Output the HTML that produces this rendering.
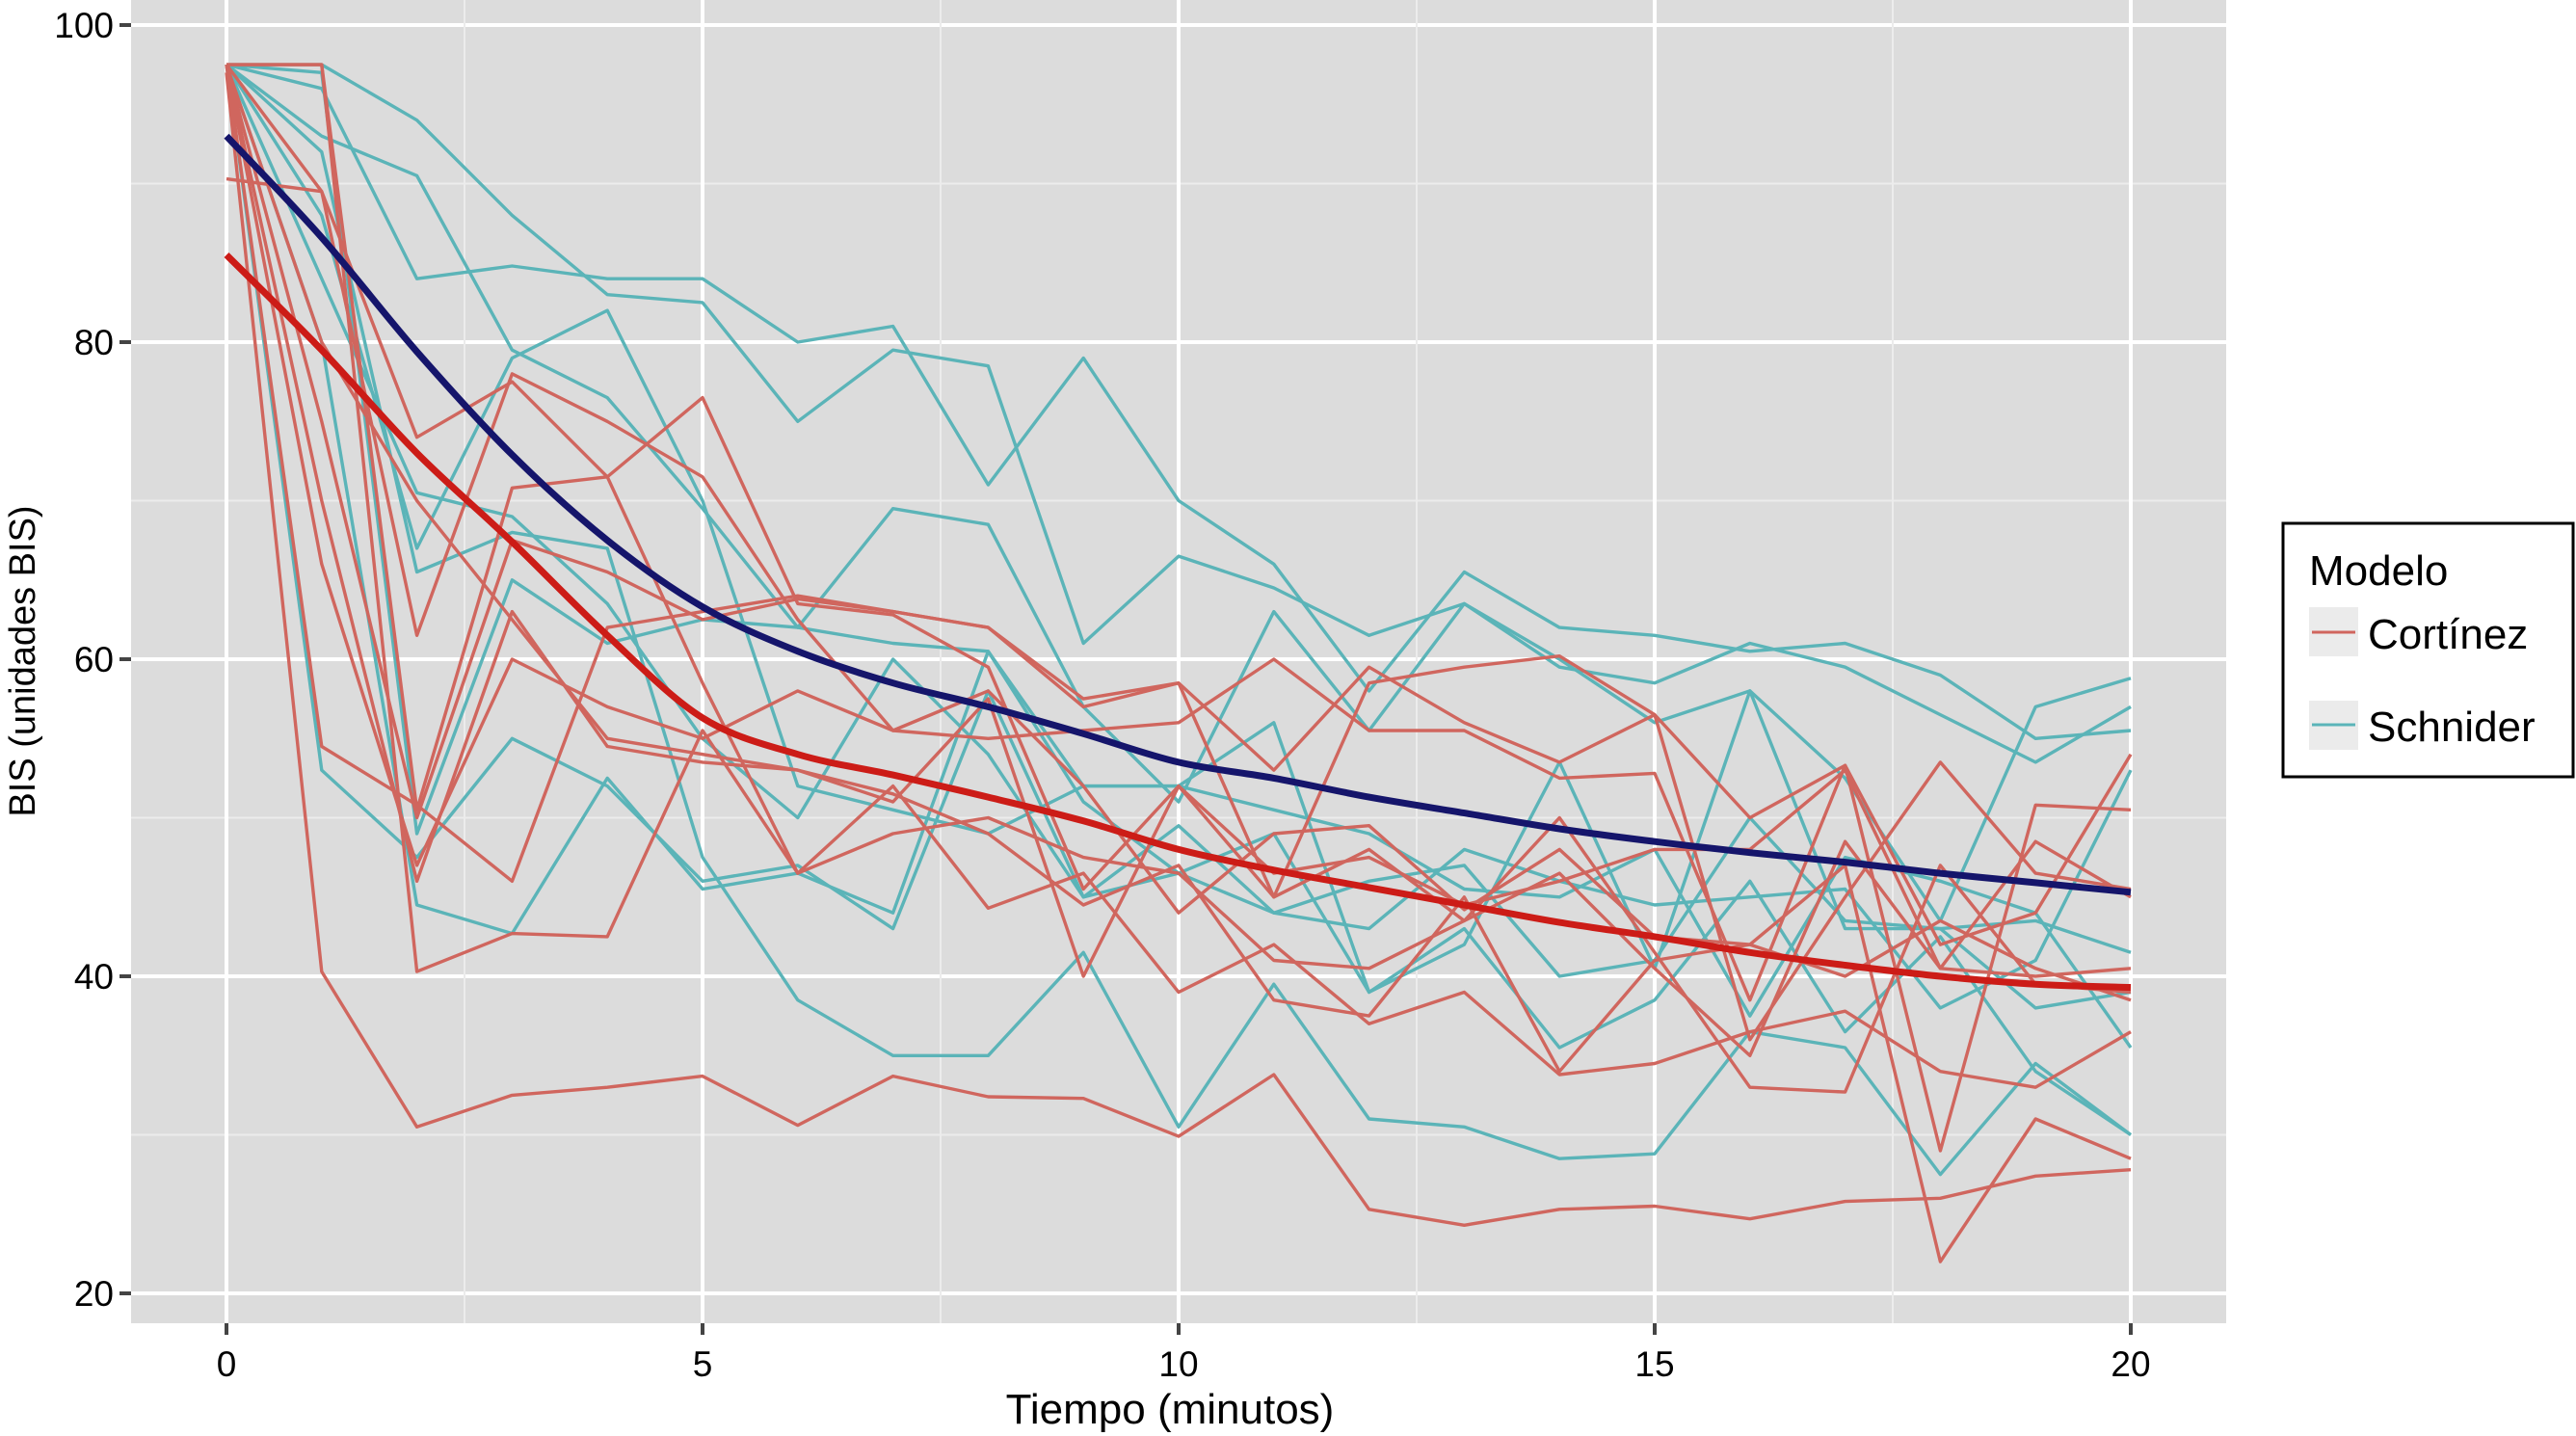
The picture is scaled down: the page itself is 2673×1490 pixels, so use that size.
<!DOCTYPE html>
<html><head><meta charset="utf-8"><style>
html,body{margin:0;padding:0;background:#fff}
svg{display:block;font-family:"Liberation Sans",sans-serif}
</style></head><body>
<svg id="chart" width="2673" height="1490" viewBox="0 0 2673 1490" xmlns="http://www.w3.org/2000/svg">
<rect x="136" y="0" width="2174" height="1373" fill="#dcdcdc"/>
<g id="grid"></g>
<g id="series"></g>
<g id="axes"></g>
<text x="1214" y="1477" font-size="44" text-anchor="middle">Tiempo (minutos)</text>
<text transform="translate(36,686) rotate(-90)" font-size="38" text-anchor="middle">BIS (unidades BIS)</text>
<g>
<rect x="2369" y="543" width="301" height="263" fill="#fff" stroke="#000" stroke-width="3"/>
<text x="2396" y="607" font-size="44">Modelo</text>
<g>
<rect x="2396" y="630" width="51" height="51" fill="#ebebeb"/>
<line x1="2399" y1="656" x2="2444" y2="656" stroke="#d0665e" stroke-width="3"/>
<text x="2457" y="673" font-size="44">Cortínez</text></g>
<g>
<rect x="2396" y="727" width="51" height="51" fill="#ebebeb"/>
<line x1="2399" y1="752" x2="2444" y2="752" stroke="#5bb4b8" stroke-width="3"/>
<text x="2457" y="769" font-size="44">Schnider</text></g>
</g>
</svg>
<script>
const xTicks=[0,5,10,15,20];
const yTicks=[20,40,60,80,100];
const times=[0,1,2,3,4,5,6,7,8,9,10,11,12,13,14,15,16,17,18,19,20];
const cortinezMean=[85.5,79.5,73,67.4,61.5,56.3,54,52.7,51.3,49.8,48,46.7,45.6,44.5,43.4,42.5,41.5,40.7,40,39.5,39.3];
const schniderMean=[93,86.6,79.4,72.9,67.5,63.3,60.5,58.5,57,55.3,53.5,52.5,51.3,50.3,49.3,48.5,47.8,47.2,46.5,45.9,45.3];
const cortinez1=[97,40.3,30.5,32.5,33,33.7,30.6,33.7,32.4,32.3,29.9,33.8,25.3,24.3,25.3,25.5,24.7,25.8,26,27.4,27.8];
const cortinez2=[97.5,97.5,40.3,42.7,42.5,55.5,46.5,52,44.3,46.5,39,42,37,39,33.8,34.5,36.5,37.8,34,33,36.5];
const cortinez3=[97.5,54.5,50.8,46,62,63,64,63,62,57.5,58.5,45,58.5,59.5,60.2,56.5,50,53.3,29,50.8,50.5];
const cortinez4=[97.5,89.5,61.5,78,75,71.5,62.5,55.5,55,55.5,56,60,55.5,55.5,52.5,52.8,38.5,53.3,42,44,54];
const cortinez5=[90.3,89.5,74,77.5,71.5,76.5,63.5,62.8,59.5,45.5,52,46.5,47.5,44.5,46,48,48,53,40.5,48.5,45];
const cortinez6=[97.5,75,50,67.5,65.5,62.5,63.8,63,62,57,58.5,53,59.5,56,53.5,56.5,36,45,53.5,46.5,45.5];
const cortinez7=[97.5,70,46,63,54.5,53.5,53,51,57.5,40,52,45,48,43.5,50,41.5,33,32.7,47,39.5,39];
const cortinez8=[97.5,97.5,50.5,70.8,71.5,58.5,46.5,49,50,47.5,46.5,41,40.5,43.5,46.5,40.5,35,48.5,40.5,40,40.5];
const cortinez9=[97.5,66,47,60,57,55,58,55.5,58,52,44,49,49.5,44.2,48,42.5,42,47,22,31,28.5];
const cortinez10=[97.5,80,70,62.5,55,54,53,51.5,49,44.5,47,38.5,37.5,45,34,41,42,40,43.5,40.5,38.5];
const schnider1=[97.5,97.5,94,88,83,82.5,75,79.5,78.5,61,66.5,64.5,61.5,63.5,59.5,58.5,61,59.5,56.5,53.5,57];
const schnider2=[97.5,96,84,84.8,84,84,80,81,71,79,70,66,58,65.5,62,61.5,60.5,61,59,55,55.5];
const schnider3=[97.5,93,90.5,79.5,76.5,69.5,62,69.5,68.5,57,51,63,55.5,63.5,60,56,58,52.5,43.5,57,58.8];
const schnider4=[97.5,92,65.5,68,67,47.5,38.5,35,35,41.5,30.5,39.5,31,30.5,28.5,28.8,36.5,35.5,27.5,34.5,30];
const schnider5=[97.5,53,47.5,55,52,46,47,43,58,45,46.5,49,39,43,35.5,38.5,46,36.5,42.5,34,30];
const schnider6=[97.5,80,44.5,42.7,52.5,45.5,46.5,44,60.5,51,46.5,44,46,47,40,41,50,43.5,43,38,39];
const schnider7=[97.5,97,49,65,61,62.5,62,61,60.5,52,52,56,39,42,53.5,40.5,58,43,43,43.5,41.5];
const schnider8=[97.5,88,67,79,82,70,52,50.5,49,52,52,50.5,49,45.5,45,48,37.5,47.5,46,44,35.5];
const schnider9=[97.5,84,70.5,69,63.5,55,50,60,54,45,49.5,44,43,48,46,44.5,45,45.5,38,41,53];

const NS='http://www.w3.org/2000/svg';
const X=t=>235+t*(2211-235)/20;
const Y=v=>1342-(v-20)*(1342-26)/80;
const grid=document.getElementById('grid'),axes=document.getElementById('axes'),series=document.getElementById('series');
function mk(tag,attrs,parent){const e=document.createElementNS(NS,tag);for(const k in attrs)e.setAttribute(k,attrs[k]);parent.appendChild(e);return e;}
for(let i=0;i<yTicks.length;i++){
  const v=yTicks[i];
  if(i<yTicks.length-1){const m=mk('line',{x1:136,x2:2310,y1:Y(v+10),y2:Y(v+10),stroke:'#ececec','stroke-width':2},grid);
    
    }
  const g=mk('line',{x1:136,x2:2310,y1:Y(v),y2:Y(v),stroke:'#fff','stroke-width':4},grid);
  
  
  mk('line',{x1:124,x2:136,y1:Y(v),y2:Y(v),stroke:'#444','stroke-width':4},axes);
  const t=mk('text',{x:118,y:Y(v)+13,'font-size':37,'text-anchor':'end'},axes);
  
  
  t.textContent=v;
}
for(let i=0;i<xTicks.length;i++){
  const v=xTicks[i];
  if(i<xTicks.length-1){const m=mk('line',{x1:X(v+2.5),x2:X(v+2.5),y1:0,y2:1373,stroke:'#ececec','stroke-width':2},grid);
    
    }
  const g=mk('line',{x1:X(v),x2:X(v),y1:0,y2:1373,stroke:'#fff','stroke-width':4},grid);
  
  
  mk('line',{x1:X(v),x2:X(v),y1:1373,y2:1385,stroke:'#444','stroke-width':4},axes);
  const t=mk('text',{x:X(v),y:1428,'font-size':37,'text-anchor':'middle'},axes);
  
  
  t.textContent=v;
}
function line(vals,color,w,name){
  const d=vals.map((v,i)=>(i?'L':'M')+X(times[i]).toFixed(1)+','+Y(v).toFixed(1)).join(' ');
  const p=mk('path',{d:d,fill:'none',stroke:color,'stroke-width':w,'stroke-linejoin':'round'},series);
  
  
}
function smooth(vals,color,w,name){
  const P=vals.map((v,i)=>[X(times[i]),Y(v)]);
  let d='M'+P[0][0].toFixed(1)+','+P[0][1].toFixed(1);
  for(let i=0;i<P.length-1;i++){
    const p0=P[Math.max(0,i-1)],p1=P[i],p2=P[i+1],p3=P[Math.min(P.length-1,i+2)];
    const c1=[p1[0]+(p2[0]-p0[0])/6,p1[1]+(p2[1]-p0[1])/6];
    const c2=[p2[0]-(p3[0]-p1[0])/6,p2[1]-(p3[1]-p1[1])/6];
    d+=' C'+c1[0].toFixed(1)+','+c1[1].toFixed(1)+' '+c2[0].toFixed(1)+','+c2[1].toFixed(1)+' '+p2[0].toFixed(1)+','+p2[1].toFixed(1);
  }
  const p=mk('path',{d:d,fill:'none',stroke:color,'stroke-width':w,'stroke-linecap':'butt'},series);
  
  
}
const cor=[cortinez1,cortinez2,cortinez3,cortinez4,cortinez5,cortinez6,cortinez7,cortinez8,cortinez9,cortinez10];
const sch=[schnider1,schnider2,schnider3,schnider4,schnider5,schnider6,schnider7,schnider8,schnider9];
sch.forEach((s,i)=>line(s,'#5bb4b8',3.4,'schnider-patient-line'));
cor.forEach((s,i)=>line(s,'#d0665e',3.4,'cortinez-patient-line'));
smooth(schniderMean,'#15156b',7,'schnider-mean-curve');
smooth(cortinezMean,'#cc1c17',7,'cortinez-mean-curve');
</script>
</body></html>
